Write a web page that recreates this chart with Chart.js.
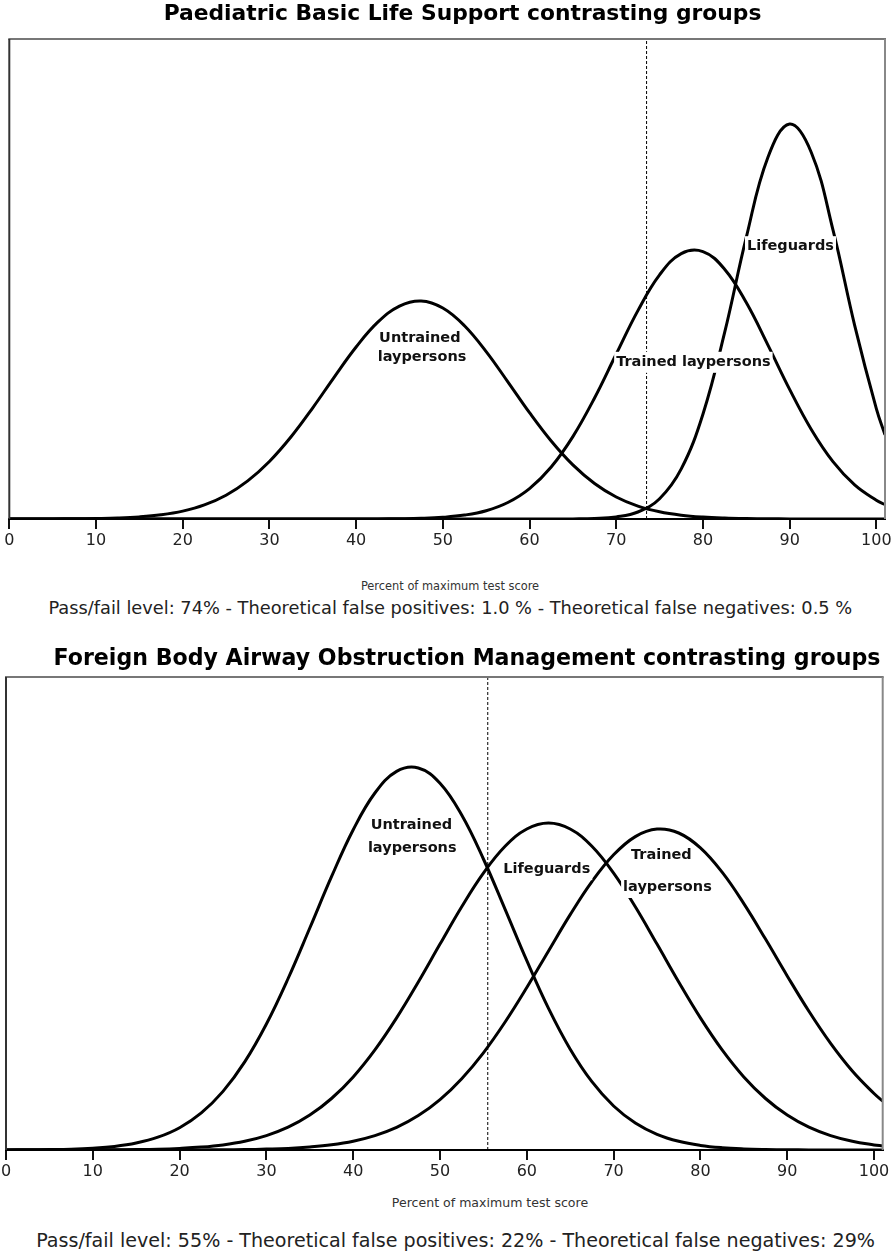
<!DOCTYPE html>
<html>
<head>
<meta charset="utf-8">
<script src="https://cdn.jsdelivr.net/npm/chart.js@4.4.1/dist/chart.umd.min.js"></script>
<style>
  html, body { margin: 0; padding: 0; background: #fff; }
  #page { position: relative; width: 894px; height: 1254px; overflow: hidden; background: #fff; }
  canvas { position: absolute; left: 0; }
  .txt { position: absolute; white-space: nowrap; line-height: 1; font-family: "DejaVu Sans", sans-serif; transform: translateX(-50%); }
</style>
</head>
<body>
<div id="page">
  <canvas id="c1" width="894" height="560" style="top:0px;width:894px;height:560px;"></canvas>
  <canvas id="c2" width="894" height="560" style="top:627px;width:894px;height:560px;"></canvas>
  <div class="txt" style="left:462.5px;top:2.4px;font-size:21.8px;font-weight:bold;color:#000;">Paediatric Basic Life Support contrasting groups</div>
  <div class="txt" style="left:450px;top:581.2px;font-size:11.4px;color:#333;">Percent of maximum test score</div>
  <div class="txt" style="left:450.3px;top:599px;font-size:17.8px;color:#222;">Pass/fail level: 74% - Theoretical false positives: 1.0 % - Theoretical false negatives: 0.5 %</div>
  <div class="txt" style="left:467px;top:646.1px;font-size:22.1px;font-weight:bold;color:#000;">Foreign Body Airway Obstruction Management contrasting groups</div>
  <div class="txt" style="left:490px;top:1197.3px;font-size:12.56px;color:#333;">Percent of maximum test score</div>
  <div class="txt" style="left:455.6px;top:1230.8px;font-size:19.1px;color:#222;">Pass/fail level: 55% - Theoretical false positives: 22% - Theoretical false negatives: 29%</div>
</div>
<script>
// ---- data ----
const xValues = [0,2.5,5,7.5,10,12.5,15,17.5,20,22.5,25,27.5,30,32.5,35,37.5,40,42.5,45,47.5,50,52.5,55,57.5,60,62.5,65,67.5,70,72.5,75,77.5,80,82.5,85,87.5,90,92.5,95,97.5,100,101];
const xTicks = [0,10,20,30,40,50,60,70,80,90,100];

// Panel 1: Paediatric Basic Life Support
const pblsUntrained = [0,0,0.1,0.2,0.5,1.0,2.1,4.2,7.9,14.1,23.8,38.1,57.5,82.2,111.2,142.2,172.0,196.8,212.9,218.0,211.0,193.3,167.4,137.2,106.3,78.0,54.1,35.5,22.0,12.9,7.2,3.8,1.9,0.9,0.4,0.2,0.1,0,0,0,0,0];
const pblsTrained = [0,0,0,0,0,0,0,0,0,0,0,0,0,0,0,0,0,0.1,0.3,0.7,1.7,3.9,8.3,16.5,30.4,52.0,82.4,121.0,165.0,208.4,244.2,265.4,267.4,249.8,216.4,173.9,129.6,89.5,57.3,34.1,18.8,14.5];
const pblsLifeguards = [0,0,0,0,0,0,0,0,0,0,0,0,0,0,0,0,0,0,0,0,0,0,0,0,0,0,0.1,0.5,2.1,7.0,20.3,50.1,104.8,186.3,281.6,361.7,394.9,366.5,289.1,193.7,110.4,84.2];
const pblsCut = 73.5;
const pblsYMax = 480;

// Panel 2: Foreign Body Airway Obstruction Management
const fbaoUntrained = [0.1,0.2,0.4,0.8,1.8,3.6,7.0,12.8,22.3,37.1,58.6,88.1,126.0,171.5,222.0,273.3,320.3,357.0,378.6,382.0,366.7,334.9,291.0,240.6,189.3,141.6,100.8,68.3,44.0,27.0,15.7,8.7,4.6,2.3,1.1,0.5,0.2,0.1,0,0,0,0];
const fbaoLifeguards = [0,0,0,0,0.1,0.2,0.4,0.8,1.6,2.9,5.1,8.7,14.4,22.8,34.9,51.5,73.1,100.1,132.1,168.0,205.9,243.3,276.9,303.7,321.0,327.0,321.0,303.7,276.9,243.3,205.9,168.0,132.1,100.1,73.1,51.5,34.9,22.8,14.4,8.7,5.1,4.1];
const fbaoTrained = [0,0,0,0,0,0,0,0,0.1,0.1,0.2,0.4,0.9,1.6,3.0,5.2,8.8,14.4,22.6,34.4,50.4,71.3,97.2,128.0,162.5,199.1,235.4,268.4,295.2,313.4,320.9,317.0,302.1,277.8,246.4,210.9,174.1,138.7,106.6,79.0,56.5,49.0];
const fbaoCut = 55.5;
const fbaoYMax = 473;

// curve labels (text and anchor in data units)
const pblsLabelText = ['Untrained', 'laypersons', 'Trained laypersons', 'Lifeguards'];
const pblsLabelX = [47.35, 47.6, 78.9, 90.1];
const pblsLabelY = [181, 162, 157.2, 272.8];
const fbaoLabelText = ['Untrained', 'laypersons', 'Lifeguards', 'Trained', 'laypersons'];
const fbaoLabelX = [46.7, 46.8, 62.3, 75.5, 76.2];
const fbaoLabelY = [324.8, 301.3, 280.8, 294.5, 263];

// ---- drawing ----
const FONT = '"DejaVu Sans", sans-serif';

function pts(series) { return xValues.map((x, i) => ({ x: x, y: series[i] })); }

const framePlugin = {
  id: 'frame',
  afterDatasetsDraw(chart) {
    const a = chart.chartArea, ctx = chart.ctx;
    ctx.save();
    ctx.lineWidth = 2;
    ctx.strokeStyle = '#777';
    ctx.beginPath(); ctx.moveTo(a.left - 1, a.top); ctx.lineTo(a.right + 1, a.top); ctx.stroke();
    ctx.strokeStyle = '#333';
    ctx.beginPath(); ctx.moveTo(a.left, a.top); ctx.lineTo(a.left, a.bottom); ctx.stroke();
    ctx.strokeStyle = '#888';
    ctx.beginPath(); ctx.moveTo(a.right, a.top); ctx.lineTo(a.right, a.bottom); ctx.stroke();
    ctx.restore();
  }
};

const labelPlugin = {
  id: 'curveLabels',
  afterDraw(chart, args, opts) {
    const ctx = chart.ctx, xs = chart.scales.x, ys = chart.scales.y;
    ctx.save();
    ctx.font = 'bold 14.5px ' + FONT;
    ctx.textAlign = 'center';
    ctx.textBaseline = 'middle';
    opts.text.forEach((t, i) => {
      const px = xs.getPixelForValue(opts.x[i]);
      const py = ys.getPixelForValue(opts.y[i]);
      const w = ctx.measureText(t).width;
      ctx.fillStyle = '#fff';
      ctx.fillRect(px - w / 2 - 2, py - 10, w + 4, 21);
      ctx.fillStyle = '#111';
      ctx.fillText(t, px, py);
    });
    ctx.restore();
  }
};

function makeChart(id, series, cut, yMax, pad, axisH, labels) {
  const curveDs = series.map(s => ({
    data: pts(s), borderColor: '#000', borderWidth: 3, pointRadius: 0,
    tension: 0.4, cubicInterpolationMode: 'default', fill: false
  }));
  const cutDs = {
    data: [{ x: cut, y: 0 }, { x: cut, y: yMax }], borderColor: '#000', borderWidth: 1,
    borderDash: [3, 2], pointRadius: 0, tension: 0, fill: false
  };
  return new Chart(document.getElementById(id), {
    type: 'line',
    data: { datasets: [cutDs].concat(curveDs) },
    plugins: [framePlugin, labelPlugin],
    options: {
      responsive: false, animation: false, devicePixelRatio: 1,
      layout: { padding: pad },
      plugins: {
        legend: { display: false }, tooltip: { enabled: false }, title: { display: false },
        curveLabels: labels
      },
      scales: {
        x: {
          type: 'linear', min: 0, max: 101,
          afterBuildTicks: s => { s.ticks = xTicks.map(v => ({ value: v })); },
          afterFit: s => { s.height = axisH; s.paddingLeft = 0; s.paddingRight = 0; },
          ticks: { font: { family: FONT, size: 16 }, color: '#222', padding: 2, maxRotation: 0, autoSkip: false, includeBounds: false },
          grid: { display: true, drawOnChartArea: false, drawTicks: true, tickLength: 10, color: '#111', lineWidth: 2 },
          border: { display: true, color: '#000', width: 2 }
        },
        y: { display: false, min: 0, max: yMax }
      }
    }
  });
}

makeChart('c1', [pblsUntrained, pblsTrained, pblsLifeguards], pblsCut, pblsYMax,
  { left: 9.3, right: 9, top: 39, bottom: 0 }, 41,
  { text: pblsLabelText, x: pblsLabelX, y: pblsLabelY });
makeChart('c2', [fbaoUntrained, fbaoLifeguards, fbaoTrained], fbaoCut, fbaoYMax,
  { left: 6, right: 11.3, top: 50, bottom: 0 }, 37,
  { text: fbaoLabelText, x: fbaoLabelX, y: fbaoLabelY });
</script>
</body>
</html>
